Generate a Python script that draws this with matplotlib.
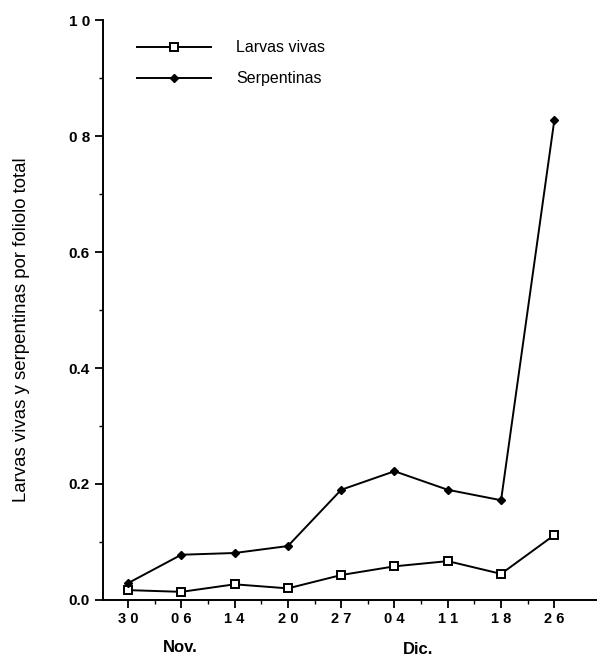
import matplotlib
matplotlib.use('Agg')
import matplotlib.pyplot as plt
import numpy as np

# Datos
fechas = ["3 0", "0 6", "1 4", "2 0", "2 7", "0 4", "1 1", "1 8", "2 6"]
larvas_vivas = [0.017, 0.014, 0.027, 0.020, 0.043, 0.058, 0.067, 0.045, 0.112]
serpentinas = [0.029, 0.078, 0.081, 0.093, 0.190, 0.222, 0.190, 0.172, 0.828]
y_ticks = [0.0, 0.2, 0.4, 0.6, 0.8, 1.0]
y_labels = ["0.0", "0.2", "0.4", "0.6", "0 8", "1 0"]

plt.rcParams['font.family'] = ['Liberation Sans', 'DejaVu Sans']

fig = plt.figure(figsize=(5.97, 6.62), dpi=100)
ax = fig.add_axes([0.1725, 0.0937, 0.8275, 0.876])

x = np.arange(len(fechas))
ax.plot(x, larvas_vivas, color='black', lw=1.4, marker='s', ms=6,
        mfc='white', mec='black', mew=1.4, label='Larvas vivas')
ax.plot(x, serpentinas, color='black', lw=1.4, marker='D', ms=4.5,
        mfc='black', mec='black', label='Serpentinas')

ax.set_xlim(-0.47, 8.8)
ax.set_ylim(0, 1.0)

ax.set_xticks(x)
ax.set_xticklabels(fechas, fontsize=10.5, fontweight='bold')
ax.set_xticks(x[:-1] + 0.5, minor=True)
ax.set_yticks(y_ticks)
ax.set_yticklabels(y_labels, fontsize=11, fontweight='bold')
ax.set_yticks(np.arange(0.1, 1.0, 0.2), minor=True)

ax.tick_params(axis='both', which='major', length=6, width=1.3, direction='out')
ax.tick_params(axis='both', which='minor', length=3, width=1.0, direction='out')
ax.tick_params(axis='x', pad=3)

for s in ['top', 'right']:
    ax.spines[s].set_visible(False)
for s in ['left', 'bottom']:
    ax.spines[s].set_linewidth(1.4)

ax.set_ylabel("Larvas vivas y serpentinas por foliolo total", fontsize=13.4)
ax.yaxis.set_label_coords(-0.148, 0.466)

fig.text(180 / 597, 1 - 648 / 662, "Nov.", ha='center', va='center', fontsize=12, fontweight='bold')
fig.text(418 / 597, 1 - 650 / 662, "Dic.", ha='center', va='center', fontsize=12, fontweight='bold')

ax.legend(loc='upper left', bbox_to_anchor=(0.04, 0.99), frameon=False,
          handlelength=4.6, handletextpad=1.6, labelspacing=1.0, fontsize=11.5)

fig.savefig('out.png', dpi=100)
